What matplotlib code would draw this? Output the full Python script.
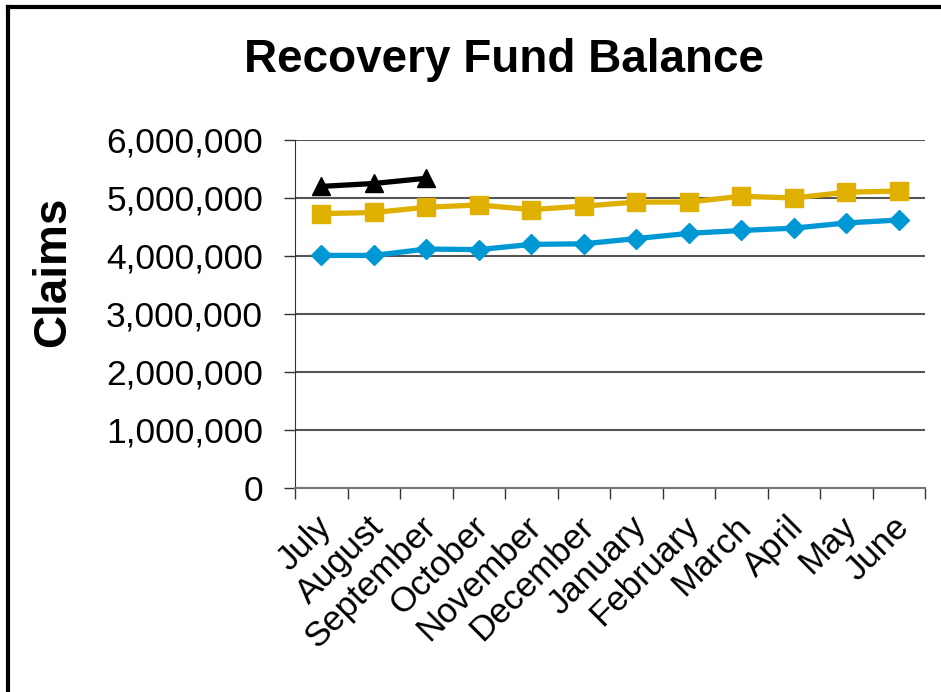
import numpy as np
import matplotlib
matplotlib.use("Agg")
import matplotlib.pyplot as plt
from matplotlib.lines import Line2D
from matplotlib.ticker import FuncFormatter, FixedLocator

months = ["July", "August", "September", "October", "November", "December",
          "January", "February", "March", "April", "May", "June"]

# three fiscal years of balances (black one only has 3 months)
blue_vals = [4010000, 4010000, 4120000, 4110000, 4200000, 4210000,
             4300000, 4390000, 4440000, 4480000, 4570000, 4620000]
gold_vals = [4730000, 4750000, 4840000, 4880000, 4800000, 4860000,
             4930000, 4930000, 5030000, 5000000, 5100000, 5120000]
black_vals = [5200000, 5250000, 5340000]

plt.rcParams['font.family'] = ['Liberation Sans', 'DejaVu Sans']

fig = plt.figure(figsize=(9.41, 6.92), dpi=100)
ax = fig.add_axes([0.3135, 0.2948, 0.6695, 0.5029])

x = np.arange(len(months)) + 0.5
ax.plot(x, blue_vals, color='#0098D4', lw=3.8, marker='D', ms=10.5, zorder=3)
ax.plot(x, gold_vals, color='#E0B000', lw=3.8, marker='s', ms=12.5, zorder=3)
ax.plot(x[:len(black_vals)], black_vals, color='black', lw=3.8, marker='^', ms=12.5, zorder=3)

ax.set_xlim(0, len(months))
ax.set_ylim(0, 6000000)
ax.yaxis.set_major_locator(FixedLocator(range(0, 6000001, 1000000)))
ax.yaxis.set_major_formatter(FuncFormatter(lambda v, p: "{:,.0f}".format(v)))
ax.grid(axis='y', color='#555555', lw=1.5, zorder=1)
ax.set_axisbelow(True)

# ticks between categories, labels near category centres (nudged left a bit like excel does)
ax.set_xticks(np.arange(len(months) + 1))
ax.set_xticklabels([])
ax.set_xticks(x - 0.13, minor=True)
ax.set_xticklabels(months, minor=True, rotation=45, ha='right', rotation_mode='anchor', fontsize=25)
ax.tick_params(axis='x', which='minor', length=0, pad=16)
ax.tick_params(axis='x', which='major', length=8, width=1, color='#333333', direction='out')
ax.tick_params(axis='y', length=8, width=1, color='#333333', labelsize=25.5, pad=15)

for s in ['top', 'right']:
    ax.spines[s].set_visible(False)
ax.spines['left'].set_color('#333333')
ax.spines['bottom'].set_color('#777777')
ax.spines['bottom'].set_linewidth(1.5)

fig.text(53/941, 1 - 272/692, "Claims", fontsize=33, fontweight='bold',
         rotation=90, ha='center', va='center')
fig.text(504/941, 1 - 60/692, "Recovery Fund Balance", fontsize=33, fontweight='bold',
         ha='center', va='center')

# outer frame (left and top visible in the original)
fig.add_artist(Line2D([8/941, 8/941], [0, 1 - 7/692], transform=fig.transFigure, color='black', lw=3))
fig.add_artist(Line2D([8/941, 1], [1 - 7/692, 1 - 7/692], transform=fig.transFigure, color='black', lw=3))

fig.savefig("out.png", dpi=100)
